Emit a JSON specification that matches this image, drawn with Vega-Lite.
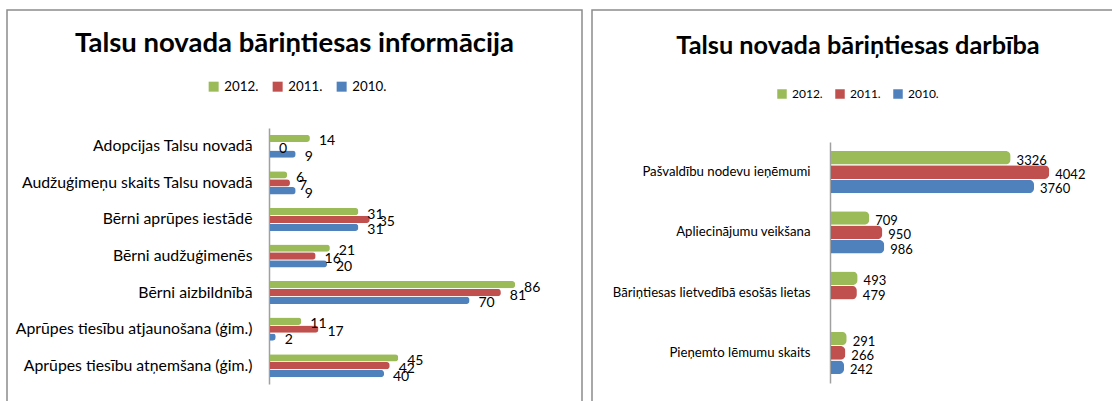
{
  "$schema": "https://vega.github.io/schema/vega-lite/v6.json",
  "padding": {"left": 6, "top": 9, "right": 0, "bottom": 0},
  "spacing": 8,
  "background": "white",
  "config": {
    "view": {"stroke": "#8c8c8c", "strokeWidth": 1.5},
    "font": "Lato",
    "axis": {"labelFont": "Lato", "labelColor": "#000000"},
    "legend": {"labelFont": "Lato", "labelColor": "#000000"}
  },
  "datasets": {
    "info": [
      {"cat": "Adopcijas Talsu novadā", "year": "2012.", "value": 14},
      {"cat": "Adopcijas Talsu novadā", "year": "2011.", "value": 0},
      {"cat": "Adopcijas Talsu novadā", "year": "2010.", "value": 9},
      {"cat": "Audžuģimeņu skaits Talsu novadā", "year": "2012.", "value": 6},
      {"cat": "Audžuģimeņu skaits Talsu novadā", "year": "2011.", "value": 7},
      {"cat": "Audžuģimeņu skaits Talsu novadā", "year": "2010.", "value": 9},
      {"cat": "Bērni aprūpes iestādē", "year": "2012.", "value": 31},
      {"cat": "Bērni aprūpes iestādē", "year": "2011.", "value": 35},
      {"cat": "Bērni aprūpes iestādē", "year": "2010.", "value": 31},
      {"cat": "Bērni audžuģimenēs", "year": "2012.", "value": 21},
      {"cat": "Bērni audžuģimenēs", "year": "2011.", "value": 16},
      {"cat": "Bērni audžuģimenēs", "year": "2010.", "value": 20},
      {"cat": "Bērni aizbildnībā", "year": "2012.", "value": 86},
      {"cat": "Bērni aizbildnībā", "year": "2011.", "value": 81},
      {"cat": "Bērni aizbildnībā", "year": "2010.", "value": 70},
      {"cat": "Aprūpes tiesību atjaunošana (ģim.)", "year": "2012.", "value": 11},
      {"cat": "Aprūpes tiesību atjaunošana (ģim.)", "year": "2011.", "value": 17},
      {"cat": "Aprūpes tiesību atjaunošana (ģim.)", "year": "2010.", "value": 2},
      {"cat": "Aprūpes tiesību atņemšana (ģim.)", "year": "2012.", "value": 45},
      {"cat": "Aprūpes tiesību atņemšana (ģim.)", "year": "2011.", "value": 42},
      {"cat": "Aprūpes tiesību atņemšana (ģim.)", "year": "2010.", "value": 40}
    ],
    "work": [
      {"cat": "Pašvaldību nodevu ieņēmumi", "year": "2012.", "value": 3326},
      {"cat": "Pašvaldību nodevu ieņēmumi", "year": "2011.", "value": 4042},
      {"cat": "Pašvaldību nodevu ieņēmumi", "year": "2010.", "value": 3760},
      {"cat": "Apliecinājumu veikšana", "year": "2012.", "value": 709},
      {"cat": "Apliecinājumu veikšana", "year": "2011.", "value": 950},
      {"cat": "Apliecinājumu veikšana", "year": "2010.", "value": 986},
      {"cat": "Bāriņtiesas lietvedībā esošās lietas", "year": "2012.", "value": 493},
      {"cat": "Bāriņtiesas lietvedībā esošās lietas", "year": "2011.", "value": 479},
      {"cat": "Pieņemto lēmumu skaits", "year": "2012.", "value": 291},
      {"cat": "Pieņemto lēmumu skaits", "year": "2011.", "value": 266},
      {"cat": "Pieņemto lēmumu skaits", "year": "2010.", "value": 242}
    ]
  },
  "resolve": {"scale": {"color": "independent", "yOffset": "independent"}, "legend": {"color": "independent"}},
  "hconcat": [
    {
      "width": 575,
      "height": 400,
      "data": {"name": "info"},
      "title": {"text": "Talsu novada bāriņtiesas informācija", "font": "Lato", "fontSize": 27.5, "fontWeight": "bold", "color": "#000000", "anchor": "middle", "baseline": "alphabetic", "offset": -69},
      "encoding": {
        "y": {
          "field": "cat", "type": "nominal",
          "sort": ["Adopcijas Talsu novadā", "Audžuģimeņu skaits Talsu novadā", "Bērni aprūpes iestādē", "Bērni audžuģimenēs", "Bērni aizbildnībā", "Aprūpes tiesību atjaunošana (ģim.)", "Aprūpes tiesību atņemšana (ģim.)"],
          "scale": {"range": [118, 374], "paddingInner": 0.37, "paddingOuter": 0.185},
          "axis": {"title": null, "offset": -262, "domainColor": "#a0a0a0", "domainWidth": 1.5, "ticks": false, "labelPadding": 17, "labelFontSize": 15.8, "labelLimit": 300}
        },
        "yOffset": {"field": "year", "type": "nominal", "sort": ["2012.", "2011.", "2010."], "scale": {"paddingInner": 0.08}},
        "x": {"field": "value", "type": "quantitative", "scale": {"domain": [0, 100], "range": [263, 548]}, "axis": null}
      },
      "layer": [
        {
          "mark": {"type": "bar", "cornerRadiusEnd": 3},
          "encoding": {
            "color": {
              "field": "year", "type": "nominal",
              "scale": {"domain": ["2012.", "2011.", "2010."], "range": ["#9BBB59", "#C0504D", "#4F81BD"]},
              "legend": {"title": null, "orient": "none", "legendX": 200, "legendY": 70, "direction": "horizontal", "symbolType": "square", "symbolSize": 100, "symbolStrokeWidth": 0, "labelFontSize": 13.3, "labelOffset": 4, "columnPadding": 12, "padding": 0}
            }
          }
        },
        {
          "mark": {"type": "text", "align": "left", "baseline": "middle", "dx": 9, "dy": 3, "fontSize": 14, "font": "Lato", "color": "#000000"},
          "encoding": {"text": {"field": "value", "type": "quantitative"}}
        }
      ]
    },
    {
      "width": 532,
      "height": 400,
      "data": {"name": "work"},
      "title": {"text": "Talsu novada bāriņtiesas darbība", "font": "Lato", "fontSize": 25.3, "fontWeight": "bold", "color": "#000000", "anchor": "middle", "baseline": "alphabetic", "offset": -69},
      "encoding": {
        "y": {
          "field": "cat", "type": "nominal",
          "sort": ["Pašvaldību nodevu ieņēmumi", "Apliecinājumu veikšana", "Bāriņtiesas lietvedībā esošās lietas", "Pieņemto lēmumu skaits"],
          "scale": {"range": [132, 373], "paddingInner": 0.3, "paddingOuter": 0.15},
          "axis": {"title": null, "offset": -238, "domainColor": "#a0a0a0", "domainWidth": 1.5, "ticks": false, "labelPadding": 20, "labelFontSize": 13.2, "labelLimit": 300}
        },
        "yOffset": {"field": "year", "type": "nominal", "sort": ["2012.", "2011.", "2010."], "scale": {"domain": ["2012.", "2011.", "2010."], "paddingInner": 0.05}},
        "x": {"field": "value", "type": "quantitative", "scale": {"domain": [0, 5000], "range": [239, 509]}, "axis": null}
      },
      "layer": [
        {
          "mark": {"type": "bar", "cornerRadiusEnd": 5},
          "encoding": {
            "color": {
              "field": "year", "type": "nominal",
              "scale": {"domain": ["2012.", "2011.", "2010."], "range": ["#9BBB59", "#C0504D", "#4F81BD"]},
              "legend": {"title": null, "orient": "none", "legendX": 184, "legendY": 78, "direction": "horizontal", "symbolType": "square", "symbolSize": 90, "symbolStrokeWidth": 0, "labelFontSize": 12, "labelOffset": 4, "columnPadding": 11, "padding": 0}
            }
          }
        },
        {
          "mark": {"type": "text", "align": "left", "baseline": "middle", "dx": 6, "dy": 3, "fontSize": 13, "font": "Lato", "color": "#000000"},
          "encoding": {"text": {"field": "value", "type": "quantitative"}}
        }
      ]
    }
  ]
}
